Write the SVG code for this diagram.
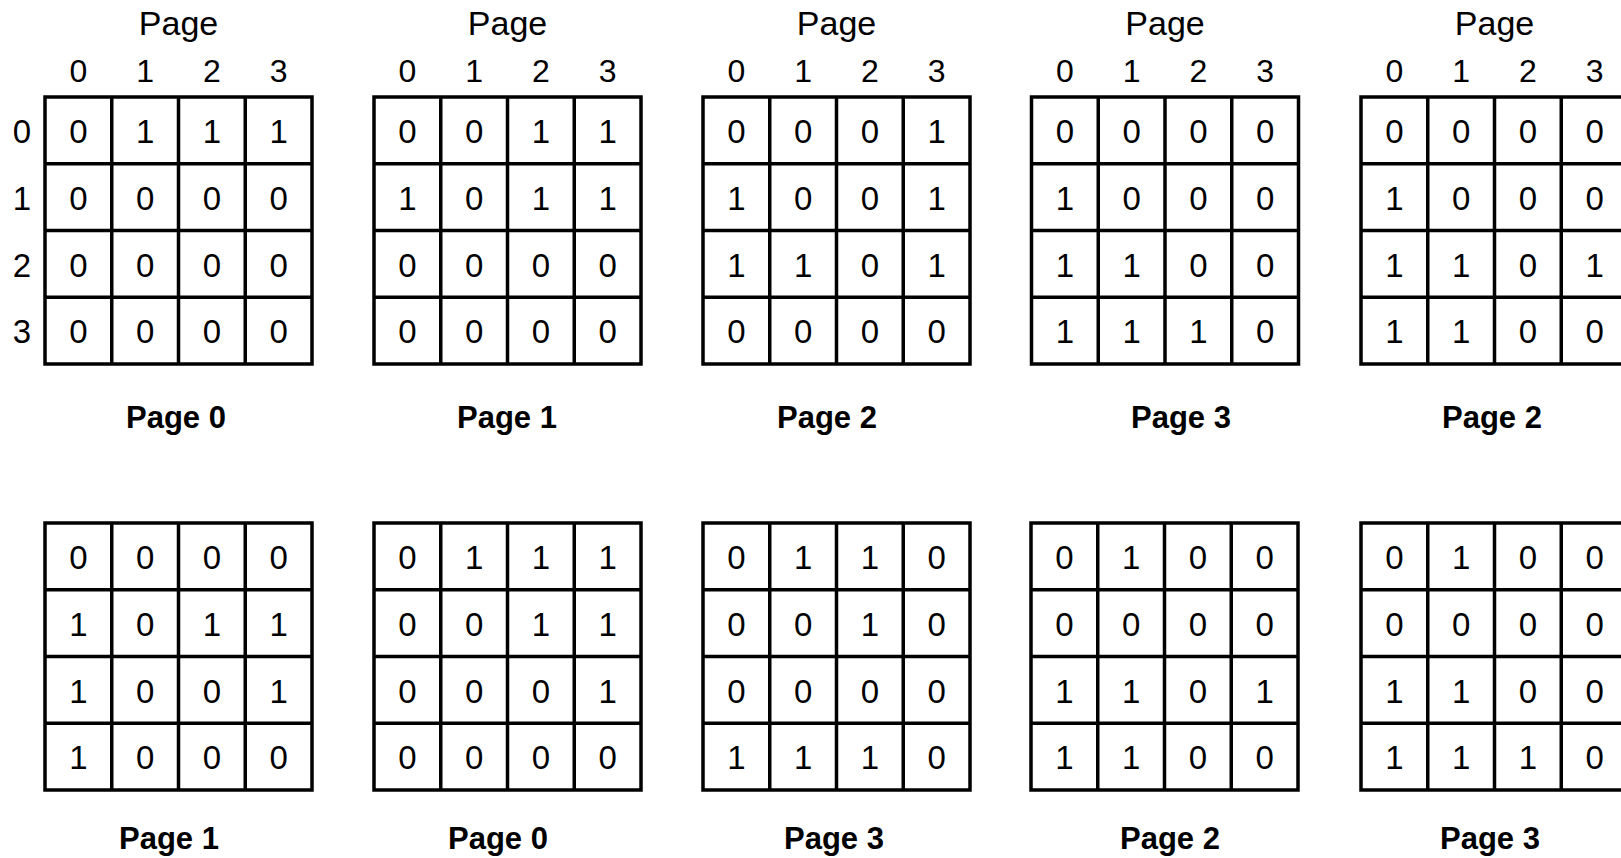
<svg xmlns="http://www.w3.org/2000/svg" width="1621" height="858" viewBox="0 0 1621 858">
<style>
  text { font-family: "Liberation Sans", Arial, Helvetica, sans-serif; fill: #000; text-anchor: middle; }
  .d { font-size: 33px; }
  .hd { font-size: 32px; }
  .hp { font-size: 34px; }
  .lb { font-size: 31px; font-weight: bold; }
  .g { fill: #fff; stroke: #000; stroke-width: 3.5; }
  .ln { stroke: #000; stroke-width: 3.5; fill: none; }
</style>
<defs>
  <g id="grid">
    <rect class="g" x="0" y="0" width="267" height="267"/>
    <path class="ln" d="M66.75 0V267M133.5 0V267M200.25 0V267M0 66.75H267M0 133.5H267M0 200.25H267"/>
  </g>
  <g id="hdr">
    <text class="hp" x="133.5" y="-62">Page</text>
    <text class="hd" x="33.4" y="-15">0</text>
    <text class="hd" x="100.1" y="-15">1</text>
    <text class="hd" x="166.9" y="-15">2</text>
    <text class="hd" x="233.6" y="-15">3</text>
  </g>
</defs>

<g id="rowlabels">
  <text class="d" x="22" y="143">0</text>
  <text class="d" x="22" y="209.8">1</text>
  <text class="d" x="22" y="276.5">2</text>
  <text class="d" x="22" y="343.3">3</text>
</g>

<!-- Top row -->
<g id="t1" transform="translate(45,97)">
  <use href="#hdr"/><use href="#grid"/>
  <text class="d" x="33.4" y="46">0</text><text class="d" x="100.1" y="46">1</text><text class="d" x="166.9" y="46">1</text><text class="d" x="233.6" y="46">1</text>
  <text class="d" x="33.4" y="112.8">0</text><text class="d" x="100.1" y="112.8">0</text><text class="d" x="166.9" y="112.8">0</text><text class="d" x="233.6" y="112.8">0</text>
  <text class="d" x="33.4" y="179.5">0</text><text class="d" x="100.1" y="179.5">0</text><text class="d" x="166.9" y="179.5">0</text><text class="d" x="233.6" y="179.5">0</text>
  <text class="d" x="33.4" y="246.3">0</text><text class="d" x="100.1" y="246.3">0</text><text class="d" x="166.9" y="246.3">0</text><text class="d" x="233.6" y="246.3">0</text>
  <text class="lb" x="131" y="331">Page 0</text>
</g>

<g id="t2" transform="translate(374,97)">
  <use href="#hdr"/><use href="#grid"/>
  <text class="d" x="33.4" y="46">0</text><text class="d" x="100.1" y="46">0</text><text class="d" x="166.9" y="46">1</text><text class="d" x="233.6" y="46">1</text>
  <text class="d" x="33.4" y="112.8">1</text><text class="d" x="100.1" y="112.8">0</text><text class="d" x="166.9" y="112.8">1</text><text class="d" x="233.6" y="112.8">1</text>
  <text class="d" x="33.4" y="179.5">0</text><text class="d" x="100.1" y="179.5">0</text><text class="d" x="166.9" y="179.5">0</text><text class="d" x="233.6" y="179.5">0</text>
  <text class="d" x="33.4" y="246.3">0</text><text class="d" x="100.1" y="246.3">0</text><text class="d" x="166.9" y="246.3">0</text><text class="d" x="233.6" y="246.3">0</text>
  <text class="lb" x="133" y="331">Page 1</text>
</g>

<g id="t3" transform="translate(703,97)">
  <use href="#hdr"/><use href="#grid"/>
  <text class="d" x="33.4" y="46">0</text><text class="d" x="100.1" y="46">0</text><text class="d" x="166.9" y="46">0</text><text class="d" x="233.6" y="46">1</text>
  <text class="d" x="33.4" y="112.8">1</text><text class="d" x="100.1" y="112.8">0</text><text class="d" x="166.9" y="112.8">0</text><text class="d" x="233.6" y="112.8">1</text>
  <text class="d" x="33.4" y="179.5">1</text><text class="d" x="100.1" y="179.5">1</text><text class="d" x="166.9" y="179.5">0</text><text class="d" x="233.6" y="179.5">1</text>
  <text class="d" x="33.4" y="246.3">0</text><text class="d" x="100.1" y="246.3">0</text><text class="d" x="166.9" y="246.3">0</text><text class="d" x="233.6" y="246.3">0</text>
  <text class="lb" x="124" y="331">Page 2</text>
</g>

<g id="t4" transform="translate(1031.5,97)">
  <use href="#hdr"/><use href="#grid"/>
  <text class="d" x="33.4" y="46">0</text><text class="d" x="100.1" y="46">0</text><text class="d" x="166.9" y="46">0</text><text class="d" x="233.6" y="46">0</text>
  <text class="d" x="33.4" y="112.8">1</text><text class="d" x="100.1" y="112.8">0</text><text class="d" x="166.9" y="112.8">0</text><text class="d" x="233.6" y="112.8">0</text>
  <text class="d" x="33.4" y="179.5">1</text><text class="d" x="100.1" y="179.5">1</text><text class="d" x="166.9" y="179.5">0</text><text class="d" x="233.6" y="179.5">0</text>
  <text class="d" x="33.4" y="246.3">1</text><text class="d" x="100.1" y="246.3">1</text><text class="d" x="166.9" y="246.3">1</text><text class="d" x="233.6" y="246.3">0</text>
  <text class="lb" x="149.5" y="331">Page 3</text>
</g>

<g id="t5" transform="translate(1361,97)">
  <use href="#hdr"/><use href="#grid"/>
  <text class="d" x="33.4" y="46">0</text><text class="d" x="100.1" y="46">0</text><text class="d" x="166.9" y="46">0</text><text class="d" x="233.6" y="46">0</text>
  <text class="d" x="33.4" y="112.8">1</text><text class="d" x="100.1" y="112.8">0</text><text class="d" x="166.9" y="112.8">0</text><text class="d" x="233.6" y="112.8">0</text>
  <text class="d" x="33.4" y="179.5">1</text><text class="d" x="100.1" y="179.5">1</text><text class="d" x="166.9" y="179.5">0</text><text class="d" x="233.6" y="179.5">1</text>
  <text class="d" x="33.4" y="246.3">1</text><text class="d" x="100.1" y="246.3">1</text><text class="d" x="166.9" y="246.3">0</text><text class="d" x="233.6" y="246.3">0</text>
  <text class="lb" x="131" y="331">Page 2</text>
</g>

<!-- Bottom row -->
<g id="b1" transform="translate(45,523)">
  <use href="#grid"/>
  <text class="d" x="33.4" y="46">0</text><text class="d" x="100.1" y="46">0</text><text class="d" x="166.9" y="46">0</text><text class="d" x="233.6" y="46">0</text>
  <text class="d" x="33.4" y="112.8">1</text><text class="d" x="100.1" y="112.8">0</text><text class="d" x="166.9" y="112.8">1</text><text class="d" x="233.6" y="112.8">1</text>
  <text class="d" x="33.4" y="179.5">1</text><text class="d" x="100.1" y="179.5">0</text><text class="d" x="166.9" y="179.5">0</text><text class="d" x="233.6" y="179.5">1</text>
  <text class="d" x="33.4" y="246.3">1</text><text class="d" x="100.1" y="246.3">0</text><text class="d" x="166.9" y="246.3">0</text><text class="d" x="233.6" y="246.3">0</text>
  <text class="lb" x="124" y="326">Page 1</text>
</g>

<g id="b2" transform="translate(374,523)">
  <use href="#grid"/>
  <text class="d" x="33.4" y="46">0</text><text class="d" x="100.1" y="46">1</text><text class="d" x="166.9" y="46">1</text><text class="d" x="233.6" y="46">1</text>
  <text class="d" x="33.4" y="112.8">0</text><text class="d" x="100.1" y="112.8">0</text><text class="d" x="166.9" y="112.8">1</text><text class="d" x="233.6" y="112.8">1</text>
  <text class="d" x="33.4" y="179.5">0</text><text class="d" x="100.1" y="179.5">0</text><text class="d" x="166.9" y="179.5">0</text><text class="d" x="233.6" y="179.5">1</text>
  <text class="d" x="33.4" y="246.3">0</text><text class="d" x="100.1" y="246.3">0</text><text class="d" x="166.9" y="246.3">0</text><text class="d" x="233.6" y="246.3">0</text>
  <text class="lb" x="124" y="326">Page 0</text>
</g>

<g id="b3" transform="translate(703,523)">
  <use href="#grid"/>
  <text class="d" x="33.4" y="46">0</text><text class="d" x="100.1" y="46">1</text><text class="d" x="166.9" y="46">1</text><text class="d" x="233.6" y="46">0</text>
  <text class="d" x="33.4" y="112.8">0</text><text class="d" x="100.1" y="112.8">0</text><text class="d" x="166.9" y="112.8">1</text><text class="d" x="233.6" y="112.8">0</text>
  <text class="d" x="33.4" y="179.5">0</text><text class="d" x="100.1" y="179.5">0</text><text class="d" x="166.9" y="179.5">0</text><text class="d" x="233.6" y="179.5">0</text>
  <text class="d" x="33.4" y="246.3">1</text><text class="d" x="100.1" y="246.3">1</text><text class="d" x="166.9" y="246.3">1</text><text class="d" x="233.6" y="246.3">0</text>
  <text class="lb" x="131" y="326">Page 3</text>
</g>

<g id="b4" transform="translate(1031,523)">
  <use href="#grid"/>
  <text class="d" x="33.4" y="46">0</text><text class="d" x="100.1" y="46">1</text><text class="d" x="166.9" y="46">0</text><text class="d" x="233.6" y="46">0</text>
  <text class="d" x="33.4" y="112.8">0</text><text class="d" x="100.1" y="112.8">0</text><text class="d" x="166.9" y="112.8">0</text><text class="d" x="233.6" y="112.8">0</text>
  <text class="d" x="33.4" y="179.5">1</text><text class="d" x="100.1" y="179.5">1</text><text class="d" x="166.9" y="179.5">0</text><text class="d" x="233.6" y="179.5">1</text>
  <text class="d" x="33.4" y="246.3">1</text><text class="d" x="100.1" y="246.3">1</text><text class="d" x="166.9" y="246.3">0</text><text class="d" x="233.6" y="246.3">0</text>
  <text class="lb" x="139" y="326">Page 2</text>
</g>

<g id="b5" transform="translate(1361,523)">
  <use href="#grid"/>
  <text class="d" x="33.4" y="46">0</text><text class="d" x="100.1" y="46">1</text><text class="d" x="166.9" y="46">0</text><text class="d" x="233.6" y="46">0</text>
  <text class="d" x="33.4" y="112.8">0</text><text class="d" x="100.1" y="112.8">0</text><text class="d" x="166.9" y="112.8">0</text><text class="d" x="233.6" y="112.8">0</text>
  <text class="d" x="33.4" y="179.5">1</text><text class="d" x="100.1" y="179.5">1</text><text class="d" x="166.9" y="179.5">0</text><text class="d" x="233.6" y="179.5">0</text>
  <text class="d" x="33.4" y="246.3">1</text><text class="d" x="100.1" y="246.3">1</text><text class="d" x="166.9" y="246.3">1</text><text class="d" x="233.6" y="246.3">0</text>
  <text class="lb" x="129" y="326">Page 3</text>
</g>

<g id="connectors"></g>
</svg>
